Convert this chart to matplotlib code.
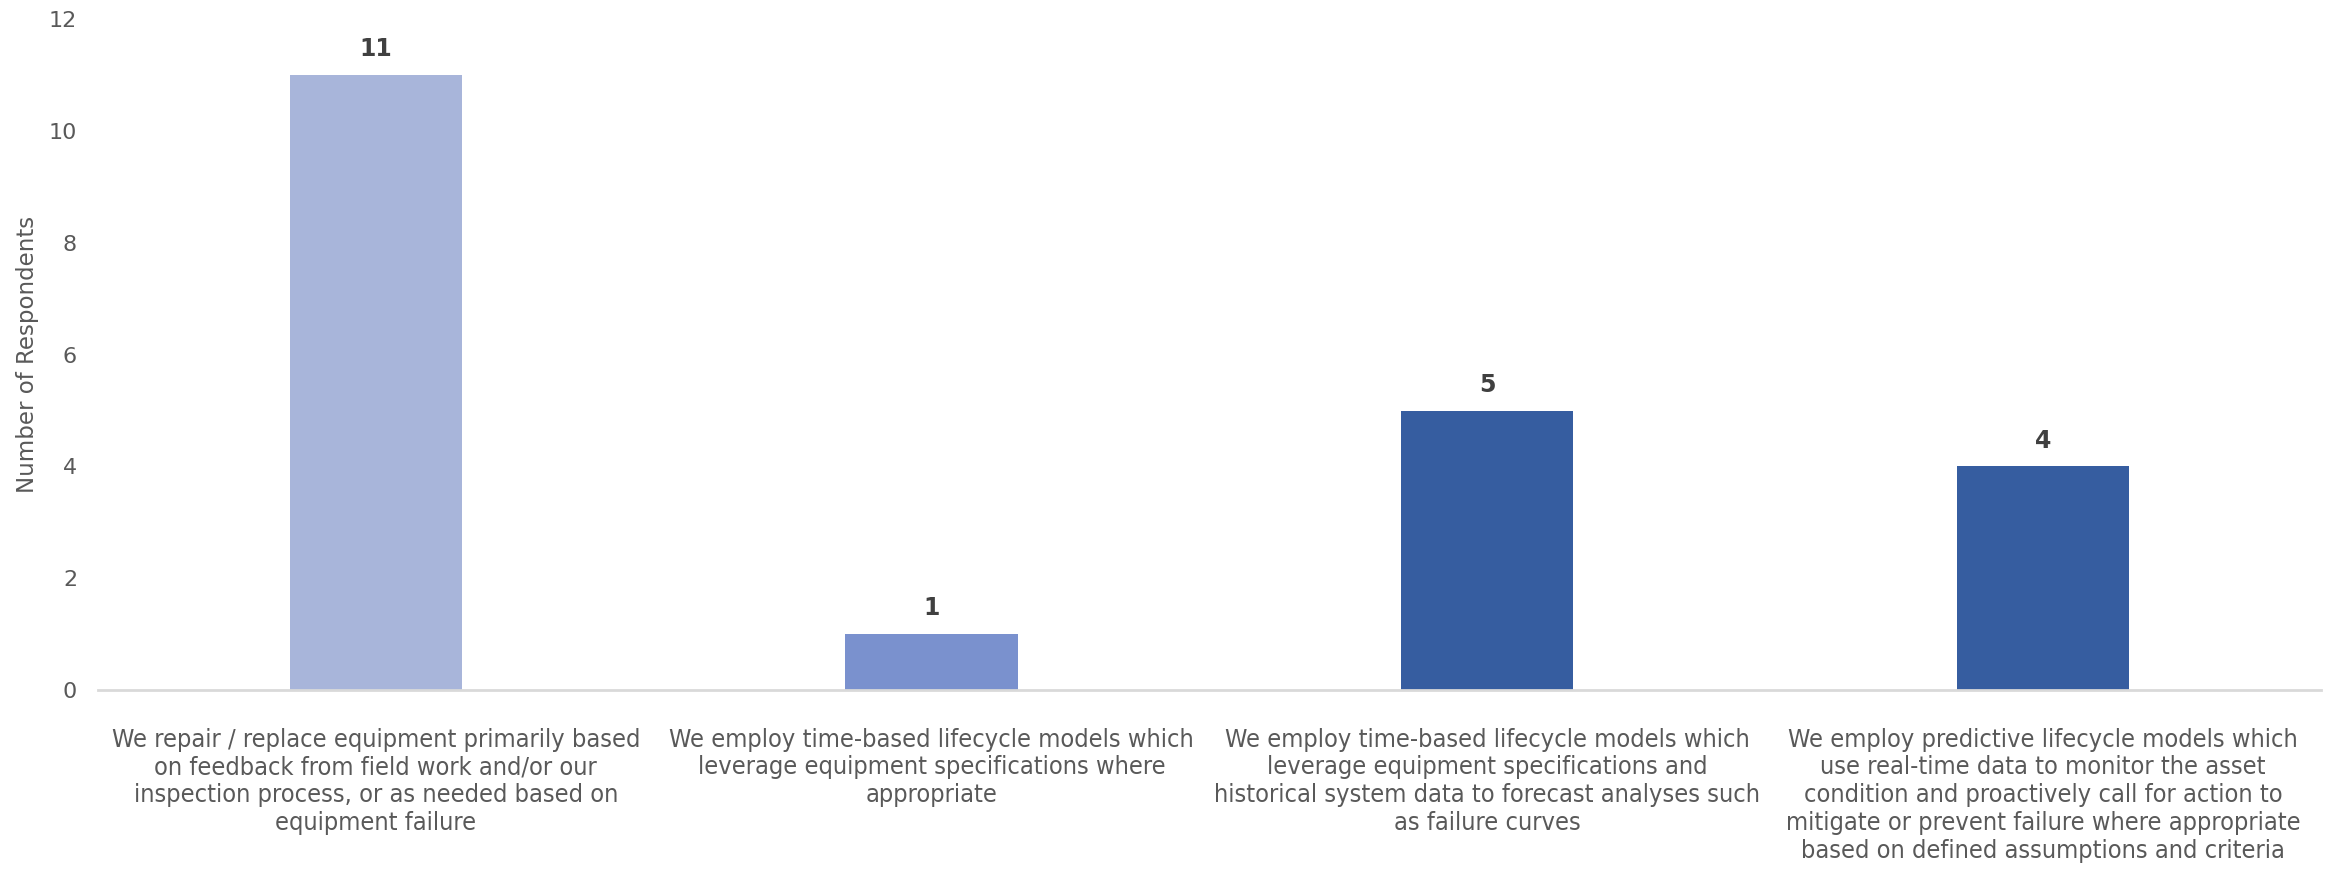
import matplotlib
matplotlib.use("Agg")
import matplotlib.pyplot as plt

# Survey answers and respondent counts
categories = [
    "We repair / replace equipment primarily based\non feedback from field work and/or our\ninspection process, or as needed based on\nequipment failure",
    "We employ time-based lifecycle models which\nleverage equipment specifications where\nappropriate",
    "We employ time-based lifecycle models which\nleverage equipment specifications and\nhistorical system data to forecast analyses such\nas failure curves",
    "We employ predictive lifecycle models which\nuse real-time data to monitor the asset\ncondition and proactively call for action to\nmitigate or prevent failure where appropriate\nbased on defined assumptions and criteria",
]
counts = [11, 1, 5, 4]
bar_colors = ["#A8B5DA", "#7A91CE", "#365DA0", "#365DA0"]

fig = plt.figure(figsize=(23.31, 8.75), dpi=100)
ax = fig.add_axes([0.042, 0.2114, 0.9537, 0.7666])

x = range(len(counts))
ax.bar(x, counts, width=0.31, color=bar_colors)
for xi, v in zip(x, counts):
    ax.annotate(str(v), (xi, v), xytext=(0, 10), textcoords="offset points",
                ha="center", va="bottom", fontsize=17, fontweight="bold", color="#404040")

ax.set_xlim(-0.5, 3.5)
ax.set_ylim(0, 12)
ax.set_yticks(range(0, 13, 2))
ax.set_xticks(list(x))
ax.set_xticklabels(categories, fontsize=18.2, family="DejaVu Sans", fontstretch="condensed",
                   color="#595959", linespacing=1.2, va="top")
ax.tick_params(axis="x", length=0, pad=27)
ax.tick_params(axis="y", length=0, pad=15, labelsize=16, labelcolor="#595959")
ax.set_ylabel("Number of Respondents", fontsize=16.5, color="#595959", labelpad=7)

for side in ["top", "right", "left"]:
    ax.spines[side].set_visible(False)
ax.spines["bottom"].set_color("#D9D9D9")
ax.spines["bottom"].set_linewidth(2)

fig.savefig("out.png", dpi=100)
